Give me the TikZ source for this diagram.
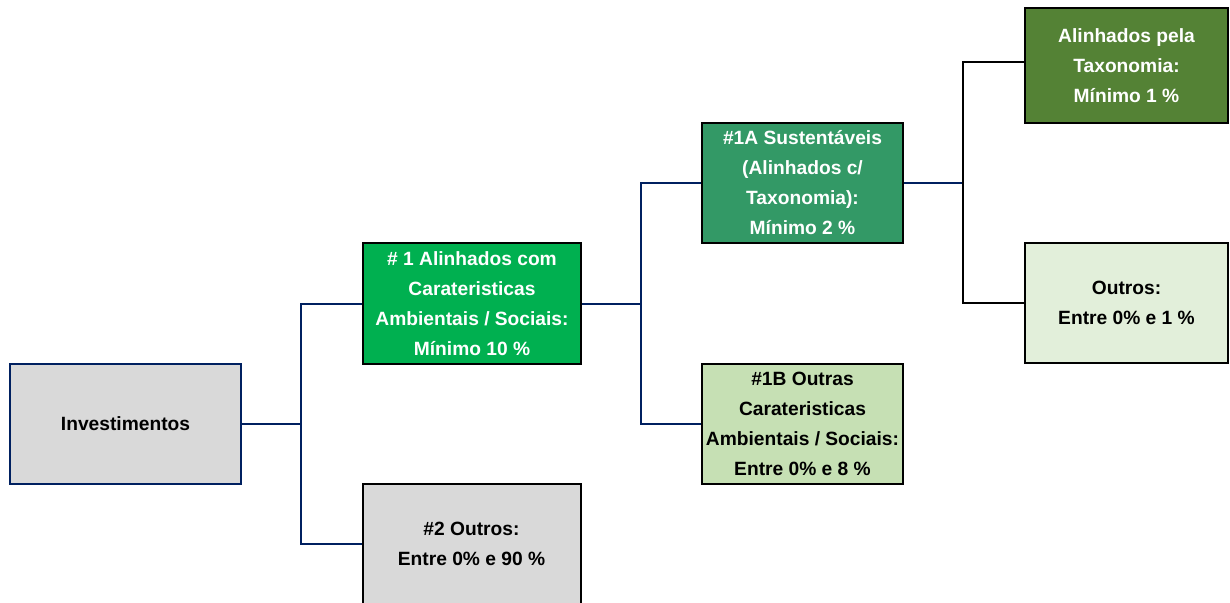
\documentclass[tikz,border=0pt]{standalone}
\usepackage{fontspec}
\setmainfont{Liberation Sans}
\usetikzlibrary{positioning}

\definecolor{navy}{HTML}{002060}
\definecolor{greyfill}{HTML}{D9D9D9}
\definecolor{brightgreen}{HTML}{00B050}
\definecolor{midgreen}{HTML}{339966}
\definecolor{darkgreen}{HTML}{548235}
\definecolor{palegreen}{HTML}{C6E0B4}
\definecolor{palergreen}{HTML}{E2EFDA}

\tikzset{
    box/.style={draw=black, line width=1pt, inner sep=0pt, align=center,
        font=\fontsize{9.6}{15}\selectfont\bfseries},
    wide/.style={minimum width=109pt, minimum height=60.5pt},
    narrow/.style={minimum width=100.5pt, minimum height=60pt},
    link/.style={draw=navy, line width=1pt},
}

\begin{document}
\begin{tikzpicture}[x=0.5pt, y=-0.5pt]
        \clip (0, 0) rectangle (1230, 602);
        \node[box, draw=navy, fill=greyfill, minimum width=115.5pt, minimum height=60pt] at (125.5, 423.5)(inv){Investimentos};
        \node[box, wide, fill=brightgreen, text=white] at (472, 303.5)(n1){\# 1 Alinhados com\\Carateristicas\\Ambientais / Sociais:\\Mínimo 10 \%};
        \node[box, wide, fill=greyfill] at (471.5, 544)(n2){\#2 Outros:\\Entre 0\% e 90 \%};
        \node[box, narrow, fill=midgreen, text=white] at (802.5, 183)(n1a){\#1A Sustentáveis\\(Alinhados c/\\Taxonomia):\\Mínimo 2 \%};
        \node[box, narrow, fill=palegreen] at (802.5, 424)(n1b){\#1B Outras\\Carateristicas\\Ambientais / Sociais:\\Entre 0\% e 8 \%};
        \node[box, minimum width=101.5pt, minimum height=57.5pt, fill=darkgreen, text=white] at (1126.5, 65.5)(tax){Alinhados pela\\Taxonomia:\\Mínimo 1 \%};
        \node[box, minimum width=101.5pt, minimum height=60pt, fill=palergreen] at (1126.5, 303)(oth){Outros:\\Entre 0\% e 1 \%};

        \coordinate (j1) at (301, 423.5);
        \coordinate (j2) at (641, 303.5);
        \coordinate (j3) at (963, 183);
        \coordinate (taxin) at (1025, 62);

        \path[link]
            (inv.east) -- (j1)
            (j1) |- (n1.west)
            (j1) |- (n2.west)
            (n1.east) -- (j2)
            (j2) |- (n1a.west)
            (j2) |- (n1b.west)
            (n1a.east) -- (j3)
            ;
        \path[link, draw=black]
            (j3) |- (taxin)
            (j3) |- (oth.west)
            ;
    \end{tikzpicture}
\end{document}
